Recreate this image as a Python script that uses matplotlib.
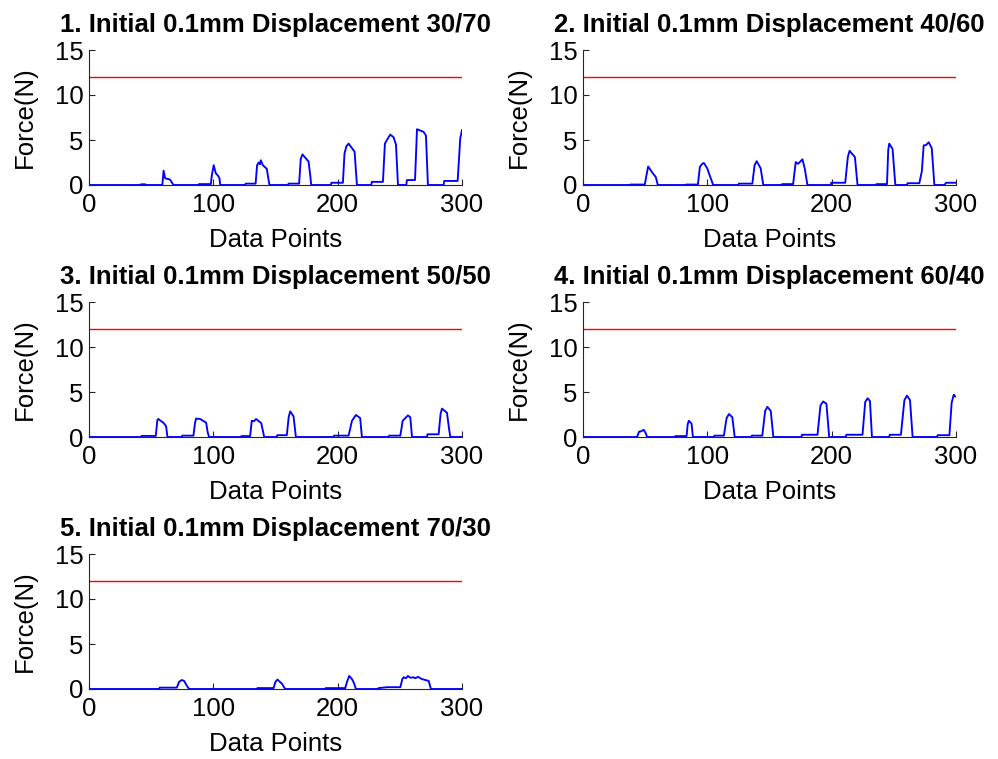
import matplotlib
matplotlib.use("Agg")
import matplotlib.pyplot as plt

plt.rcParams['font.family'] = ['Liberation Sans', 'DejaVu Sans']

titles = [
    "1. Initial 0.1mm Displacement 30/70",
    "2. Initial 0.1mm Displacement 40/60",
    "3. Initial 0.1mm Displacement 50/50",
    "4. Initial 0.1mm Displacement 60/40",
    "5. Initial 0.1mm Displacement 70/30",
]
threshold = 12
x_ticks = [0, 100, 200, 300]
y_ticks = [0, 5, 10, 15]

# Force traces (vertices)
x1 = [0, 41, 42, 45, 46, 58, 59, 60, 61.2, 65.2, 67, 68, 88, 88.5, 98, 98.7, 100.3, 102, 104, 105, 105.5,
      125.6, 126, 134, 135.2, 136.5, 137.5, 138.2, 139.8, 143, 144.5, 145.2,
      160, 160.5, 169, 170.3, 171.7, 176.6, 178, 178.7,
      194.5, 195, 204.2, 205.5, 207, 208.8, 213.6, 215, 215.5,
      227, 227.5, 236.4, 238, 239.6, 242.3, 245, 246.9, 248.5,
      255.2, 255.7, 262.2, 263.2, 263.8, 269.1, 271, 272.6,
      285.2, 285.7, 296.5, 298.6, 300]
y1 = [0, 0, 0.08, 0.08, 0, 0, 0.05, 1.6, 0.75, 0.6, 0.2, 0, 0, 0.1, 0.1, 1.0, 2.2, 1.3, 1.0, 0.7, 0,
      0, 0.15, 0.15, 2.2, 2.5, 2.3, 2.75, 2.2, 1.8, 0.5, 0,
      0, 0.15, 0.15, 2.9, 3.4, 2.6, 1.0, 0,
      0, 0.25, 0.25, 3.5, 4.3, 4.6, 3.7, 1.0, 0,
      0, 0.35, 0.35, 4.6, 5.0, 5.6, 5.3, 4.5, 0,
      0, 0.55, 0.55, 4.0, 6.2, 5.9, 5.5, 0,
      0, 0.45, 0.45, 5.2, 6.1]

x2 = [0, 37.6, 38, 49.7, 51.2, 52.4, 56.4, 58.5, 60.2,
      82.5, 83, 92.4, 94, 95.5, 97.2, 99.9, 102.6, 104.7,
      124.9, 125.3, 136.2, 138, 139.7, 142.9, 145,
      159.8, 160.2, 169, 171.1, 173, 176.5, 178.4, 180.5,
      199.3, 199.7, 210.9, 213, 214.4, 218.7, 220.8,
      235.6, 236, 244.5, 245.5, 246.3, 249, 251.2,
      260.6, 261, 270.5, 272.5, 274, 276, 278, 280.5, 282.6,
      290.7, 292, 300]
y2 = [0, 0, 0.05, 0.05, 1.2, 2.05, 1.25, 0.9, 0,
      0, 0.05, 0.05, 2.0, 2.3, 2.45, 1.85, 0.8, 0,
      0, 0.15, 0.15, 2.2, 2.65, 1.85, 0,
      0, 0.1, 0.1, 2.55, 2.35, 2.85, 1.8, 0,
      0, 0.25, 0.25, 3.1, 3.8, 3.1, 0,
      0, 0.1, 0.1, 3.9, 4.6, 4.0, 0,
      0, 0.2, 0.2, 1.5, 4.4, 4.45, 4.75, 4.1, 0,
      0, 0.25, 0.25]

x3 = [0, 41.9, 42.3, 53.7, 55, 55.8, 60.1, 62, 63.1,
      74.6, 75, 84, 85.2, 86.1, 89.4, 94.2, 95.5, 96.6,
      122.1, 122.5, 129.6, 130.9, 132.6, 134.4, 138.5, 140, 140.9,
      151, 151.4, 159.1, 160.6, 161.8, 164.5, 166.4,
      196.7, 197.1, 208.8, 211.5, 214.7, 218.1, 219.5,
      241, 241.4, 250.4, 252.3, 256.5, 258.4, 259.8,
      271.8, 272.2, 281.2, 282.8, 283.9, 287.9, 289.5, 290.6, 300]
y3 = [0, 0, 0.12, 0.12, 1.9, 2.0, 1.55, 1.2, 0,
      0, 0.15, 0.15, 1.5, 2.05, 2.0, 1.6, 0.5, 0,
      0, 0.1, 0.1, 1.8, 1.75, 2.0, 1.55, 0.6, 0,
      0, 0.2, 0.2, 2.2, 2.85, 2.3, 0,
      0, 0.15, 0.15, 1.8, 2.45, 2.1, 0,
      0, 0.15, 0.15, 1.8, 2.4, 2.2, 0,
      0, 0.3, 0.3, 2.6, 3.15, 2.7, 1.0, 0, 0]

x4 = [0, 43.5, 45.1, 46.2, 48.9, 50.5, 51.6,
      73.9, 74.3, 83.3, 84.2, 85.1, 87.3, 88.4,
      105.3, 105.7, 113.3, 115.5, 117.4, 120.1, 122,
      135.4, 135.8, 144.2, 146.5, 148.3, 151, 153.1,
      175.7, 176.1, 188.6, 191, 193.1, 195.8, 198,
      211.4, 211.8, 224.8, 227, 228.9, 230.8, 232.4,
      246.3, 246.7, 255.7, 258.5, 260.6, 263, 265.1,
      284.8, 285.2, 294.7, 296.5, 298.2, 299.2, 300]
y4 = [0, 0, 0.6, 0.6, 0.8, 0.4, 0,
      0, 0.1, 0.1, 1.4, 1.8, 1.5, 0,
      0, 0.15, 0.15, 2.1, 2.55, 2.2, 0,
      0, 0.15, 0.15, 2.9, 3.35, 2.9, 0,
      0, 0.25, 0.25, 3.5, 3.95, 3.7, 0,
      0, 0.25, 0.25, 3.9, 4.3, 4.0, 0,
      0, 0.25, 0.25, 4.1, 4.6, 4.1, 0,
      0, 0.2, 0.2, 3.8, 4.7, 4.5, 4.5]

x5 = [0, 56.4, 56.8, 70.6, 72.5, 74.6, 76.5, 78.5, 80.5,
      135, 135.4, 148.4, 150, 151.6, 153.5, 155.1, 157.8,
      190, 190.4, 206.1, 207.5, 209.3, 211.5, 213, 214.7,
      232.4, 232.8, 240, 250.4, 252, 253, 254.9, 256.5, 258.4, 261, 262.5, 264.6, 267.8, 273.2, 275, 300]
y5 = [0, 0, 0.15, 0.15, 0.8, 1.0, 0.9, 0.4, 0,
      0, 0.1, 0.1, 0.8, 1.05, 0.8, 0.6, 0,
      0, 0.1, 0.1, 0.8, 1.45, 1.1, 0.7, 0,
      0, 0.1, 0.2, 0.2, 1.1, 1.3, 1.2, 1.45, 1.25, 1.3, 1.2, 1.35, 1.1, 0.9, 0, 0]

series_x = [x1, x2, x3, x4, x5]
series_y = [y1, y2, y3, y4, y5]

fig = plt.figure(figsize=(9.98, 7.59), dpi=100)
W, H = 998, 759
lefts = [89, 583, 89, 583, 89]
bottoms = [185, 185, 437, 437, 689]
aw, ah = 373, 135
FS = 18.5

for i in range(5):
    ax = fig.add_axes([lefts[i] / W, 1 - bottoms[i] / H, aw / W, ah / H])
    ax.plot([0, 300], [threshold, threshold], color='#ff0000', lw=1.0)
    ax.plot(series_x[i], series_y[i], color='#0000ff', lw=1.35)
    ax.set_xlim(0, 300)
    ax.set_ylim(0, 15)
    ax.set_xticks(x_ticks)
    ax.set_yticks(y_ticks)
    ax.spines['top'].set_visible(False)
    ax.spines['right'].set_visible(False)
    for s in ('left', 'bottom'):
        ax.spines[s].set_linewidth(0.8)
        ax.spines[s].set_color('#262626')
    ax.tick_params(direction='in', length=4, width=0.8, labelsize=FS, colors='#262626', labelcolor='black')
    ax.tick_params(axis='x', pad=5.5)
    ax.tick_params(axis='y', pad=4)
    ax.set_xlabel("Data Points", fontsize=FS, va='center')
    ax.xaxis.set_label_coords(0.5, -0.405)
    ax.set_ylabel("Force(N)", fontsize=FS, va='center')
    ax.yaxis.set_label_coords(-0.172, 0.5)
    ax.set_title(titles[i], fontsize=FS, fontweight='bold', pad=13)

fig.savefig("out.png", dpi=100)
